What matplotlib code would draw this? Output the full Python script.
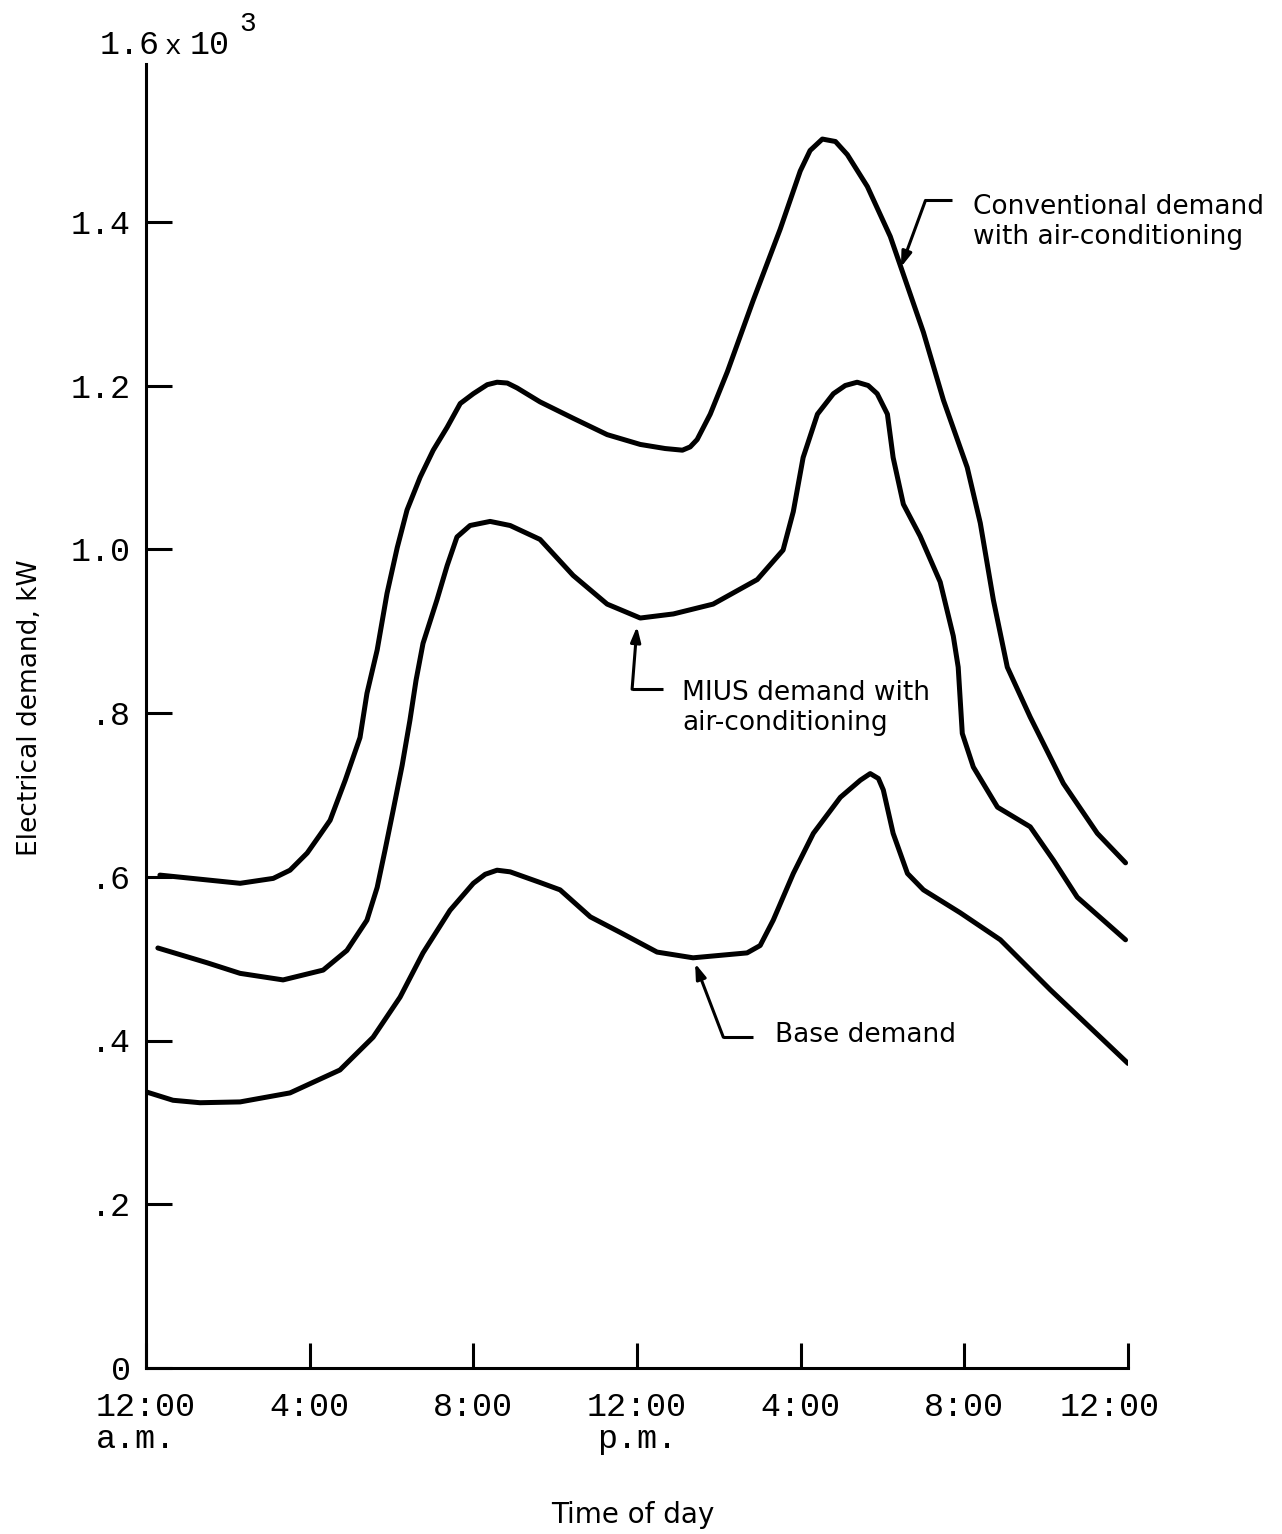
import numpy as np
import matplotlib
matplotlib.use("Agg")
import matplotlib.pyplot as plt
from matplotlib.transforms import ScaledTranslation

# Time of day in hours after midnight; demand in units of 10^3 kW
conv_hours = [0.34, 1.32, 2.30, 3.11, 3.52, 3.94, 4.25, 4.50, 4.87, 5.23, 5.40, 5.65,
              5.89, 6.14, 6.38, 6.70, 7.02, 7.36, 7.68, 8.00, 8.34, 8.58, 8.83, 9.07,
              9.63, 10.44, 11.27, 12.08, 12.69, 13.11, 13.30, 13.47, 13.79, 14.21,
              14.84, 15.50, 15.99, 16.23, 16.53, 16.85, 17.14, 17.63, 18.19, 19.00,
              19.49, 20.07, 20.39, 20.71, 21.05, 21.61, 22.42, 23.25, 23.94]
conv_demand = [0.602, 0.597, 0.592, 0.598, 0.608, 0.629, 0.651, 0.669, 0.718, 0.770,
               0.824, 0.877, 0.946, 1.002, 1.048, 1.088, 1.121, 1.149, 1.178, 1.190,
               1.201, 1.204, 1.203, 1.197, 1.180, 1.160, 1.140, 1.128, 1.123, 1.121,
               1.125, 1.134, 1.165, 1.217, 1.304, 1.391, 1.462, 1.487, 1.501, 1.498,
               1.482, 1.443, 1.382, 1.265, 1.182, 1.100, 1.032, 0.938, 0.856, 0.795,
               0.714, 0.653, 0.617]

mius_hours = [0.29, 1.49, 2.30, 3.35, 4.33, 4.91, 5.40, 5.65, 5.84, 6.04, 6.26, 6.45,
              6.60, 6.77, 7.11, 7.36, 7.60, 7.92, 8.41, 8.90, 9.63, 10.44, 11.27, 12.08,
              12.89, 13.86, 14.94, 15.57, 15.82, 16.06, 16.41, 16.80, 17.09, 17.38,
              17.65, 17.87, 18.12, 18.26, 18.51, 18.92, 19.41, 19.73, 19.85, 19.95,
              20.22, 20.81, 21.61, 22.18, 22.76, 23.94]
mius_demand = [0.513, 0.495, 0.482, 0.474, 0.486, 0.510, 0.547, 0.587, 0.632, 0.681,
               0.736, 0.791, 0.840, 0.885, 0.938, 0.980, 1.015, 1.029, 1.034, 1.029,
               1.012, 0.968, 0.933, 0.916, 0.921, 0.933, 0.963, 0.999, 1.046, 1.112,
               1.165, 1.190, 1.200, 1.204, 1.200, 1.190, 1.165, 1.112, 1.055, 1.016,
               0.960, 0.894, 0.856, 0.775, 0.734, 0.685, 0.661, 0.620, 0.575, 0.523]

base_hours = [0.02, 0.66, 1.32, 2.30, 3.52, 4.74, 5.55, 6.21, 6.77, 7.43, 8.00, 8.29,
              8.58, 8.90, 9.63, 10.12, 10.86, 11.59, 12.49, 13.37, 14.69, 15.01, 15.33,
              15.82, 16.31, 16.97, 17.46, 17.70, 17.90, 18.02, 18.26, 18.61, 19.00,
              19.90, 20.88, 22.10, 24.00]
base_demand = [0.337, 0.327, 0.324, 0.325, 0.336, 0.364, 0.404, 0.453, 0.507, 0.559,
               0.592, 0.603, 0.608, 0.606, 0.593, 0.584, 0.551, 0.532, 0.508, 0.501,
               0.507, 0.516, 0.547, 0.604, 0.653, 0.697, 0.718, 0.726, 0.720, 0.706,
               0.653, 0.604, 0.584, 0.556, 0.523, 0.462, 0.372]

x_ticks = [0, 4, 8, 12, 16, 20, 24]
x_tick_labels = ["12:00\na.m.", "4:00", "8:00", "12:00\np.m.", "4:00", "8:00", "12:00"]
y_ticks = [0, 0.2, 0.4, 0.6, 0.8, 1.0, 1.2, 1.4]
y_tick_labels = ["0", ".2", ".4", ".6", ".8", "1.0", "1.2", "1.4"]

MONO = "Liberation Mono"
SANS = "DejaVu Sans"

fig = plt.figure(figsize=(12.82, 15.34), dpi=100)
ax = fig.add_axes([146 / 1282, 166 / 1534, 982 / 1282, 1310 / 1534])

line_kw = dict(color="black", lw=3.6, solid_capstyle="round", solid_joinstyle="round")
ax.plot(conv_hours, conv_demand, **line_kw)
ax.plot(mius_hours, mius_demand, **line_kw)
ax.plot(base_hours, base_demand, **line_kw)

ax.set_xlim(0, 24)
ax.set_ylim(0, 1.6)
for side in ("top", "right"):
    ax.spines[side].set_visible(False)
for side in ("left", "bottom"):
    ax.spines[side].set_linewidth(2.2)
ax.spines["left"].set_bounds(0, 1.593)

ax.set_xticks(x_ticks)
ax.set_xticklabels(x_tick_labels, fontfamily=MONO, fontsize=24, linespacing=1.05)
ax.set_yticks(y_ticks)
ax.set_yticklabels(y_tick_labels, fontfamily=MONO, fontsize=24)
ax.tick_params(axis="x", direction="in", length=18, width=2.2, pad=17)
ax.tick_params(axis="y", direction="in", length=19, width=2.2, pad=11)

xlabels = ax.get_xticklabels()
xlabels[0].set_multialignment("left")
xlabels[3].set_multialignment("center")
xlabels[-1].set_transform(xlabels[-1].get_transform()
                          + ScaledTranslation(-0.18, 0, fig.dpi_scale_trans))

# Axis scale marker "1.6 x 10^3" above the vertical axis
scale_y = 1 - 54 / 1534
fig.text(100 / 1282, scale_y, "1.6", fontfamily=MONO, fontsize=24, ha="left", va="baseline")
fig.text(173 / 1282, scale_y, "x", fontfamily=MONO, fontsize=20, ha="center", va="baseline")
fig.text(190 / 1282, scale_y, "10", fontfamily=MONO, fontsize=24, ha="left", va="baseline")
fig.text(239 / 1282, 1 - 31 / 1534, "3", fontfamily=MONO, fontsize=20, ha="left",
         va="baseline")

fig.text(633 / 1282, 1 - 1515 / 1534, "Time of day", fontfamily=SANS, fontsize=20,
         ha="center", va="center")
fig.text(30 / 1282, 1 - 708 / 1534, "Electrical demand, kW", fontfamily=SANS,
         fontsize=19, rotation=90, ha="center", va="center")

# Curve call-outs: arrow to the curve, short horizontal leader, then the text
arrow_kw = dict(arrowstyle="-|>,head_length=0.9,head_width=0.3", color="black",
                lw=2.2, shrinkA=0, shrinkB=0)


def callout(hours, demand, tip_h, tip_dv, elbow, lead_end, text_pos, text):
    tip = (tip_h, float(np.interp(tip_h, hours, demand)) + tip_dv)
    ax.annotate("", xy=tip, xytext=elbow, arrowprops=arrow_kw)
    ax.plot([elbow[0], lead_end], [elbow[1], elbow[1]], color="black", lw=2.2,
            solid_capstyle="butt")
    ax.text(text_pos[0], text_pos[1], text, fontfamily=SANS, fontsize=19,
            ha="left", va="center", linespacing=1.2)


callout(conv_hours, conv_demand, 18.45, 0.0, (19.05, 1.426), 19.71, (20.2, 1.400),
        "Conventional demand\nwith air-conditioning")
callout(mius_hours, mius_demand, 12.0, -0.012, (11.88, 0.829), 12.64, (13.1, 0.806),
        "MIUS demand with\nair-conditioning")
callout(base_hours, base_demand, 13.42, -0.007, (14.11, 0.404), 14.84, (15.38, 0.407),
        "Base demand")

fig.savefig("out.png", dpi=100)
